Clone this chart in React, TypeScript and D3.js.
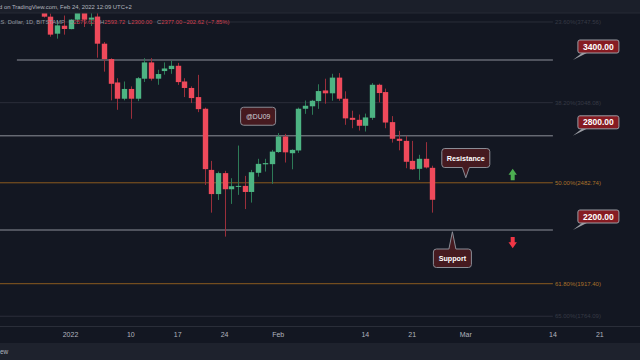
import React from "react";
import * as d3 from "d3";

const W = 640;
const H = 360;

// ETH/USD daily candles, first one is 2021-12-28
const firstDay = "2021-12-28";
const opens = [
  3990, 3799, 3637, 3712,
  3680, 3770, 3835, 3770, 3800, 3545, 3408, 3210, 3079, 3157, 3079, 3241, 3379, 3241, 3305, 3322,
  3350, 3218, 3165, 3092, 3001, 2566, 2412, 2545, 2442, 2460, 2463, 2425, 2547, 2603, 2604,
  2686, 2795, 2678, 2697, 3001, 3020, 3060, 3145, 3122, 3250, 3079, 2932, 2917, 2873, 2932, 3191,
  3132, 2900, 2779, 2764, 2626, 2573, 2640, 2579.62,
];
const highs = [
  4000, 3830, 3765, 3810,
  3775, 3850, 3850, 3870, 3860, 3560, 3415, 3245, 3218, 3178, 3255, 3416, 3416, 3316, 3379, 3396,
  3375, 3245, 3178, 3273, 3010, 2626, 2555, 2560, 2512, 2731, 2527, 2566, 2640, 2640, 2701,
  2820, 2814, 2705, 3010, 3065, 3070, 3195, 3241, 3282, 3288, 3138, 2986, 2957, 2964, 3205, 3200,
  3160, 2945, 2836, 2800, 2764, 2667, 2755, 2593.72,
];
const lows = [
  3790, 3609, 3591, 3628,
  3678, 3730, 3700, 3710, 3420, 3300, 3066, 2993, 3066, 2925, 3060, 3214, 3225, 3191, 3275, 3282,
  3190, 3092, 3045, 2975, 2469, 2300, 2376, 2163, 2352, 2407, 2321, 2360, 2522, 2555, 2476,
  2680, 2615, 2570, 2680, 2962, 2955, 3000, 3040, 3063, 3063, 2880, 2855, 2838, 2831, 2917, 3050,
  2855, 2752, 2698, 2577, 2566, 2501, 2575, 2300,
];
const closes = [
  3799, 3628, 3715, 3681,
  3770, 3835, 3770, 3790, 3545, 3408, 3199, 3079, 3157, 3079, 3245, 3379, 3241, 3280, 3327, 3350,
  3213, 3165, 3084, 2998, 2571, 2412, 2545, 2442, 2461, 2463, 2425, 2551, 2606, 2611, 2689,
  2795, 2684, 2701, 3001, 3024, 3063, 3140, 3122, 3250, 3079, 2928, 2917, 2873, 2935, 3191, 3124,
  2897, 2779, 2764, 2620, 2570, 2640, 2582, 2377,
];

const levels = [3400, 2800, 2200];
const levelStarts = ["2021-12-24", "2021-12-20", "2021-12-20"];
const fibPrices = [3747.56, 3048.08, 2482.74, 1917.4, 1764.09];
const fibLabels = ["23.60%(3747.56)", "38.20%(3048.08)", "50.00%(2482.74)", "61.80%(1917.40)", "65.00%(1764.09)"];
const fibStrong = [false, false, true, true, false];

const tickDates = ["2022-01-01", "2022-01-10", "2022-01-17", "2022-01-24", "2022-02-01", "2022-02-14", "2022-02-21", "2022-03-01", "2022-03-14", "2022-03-21"];
const tickLabels = ["2022", "10", "17", "24", "Feb", "14", "21", "Mar", "14", "21"];

const ohlcKeys = ["O", "H", "L", "C"];
const ohlcVals = ["2579.62", "2593.72", "2300.00", "2377.00"];
const changeText = "−202.62 (−7.85%)";

const lineEnd = "2022-03-14";

const UP = "#4db483";
const DOWN = "#ef4a5b";
const UP_WICK = "#2d7a57";
const DOWN_WICK = "#9b2f3b";
const BG = "#131722";
const TXT = "#b2b5be";
const FONT = "'Liberation Sans', Arial, sans-serif";

const d = (s: string) => new Date(s + "T00:00:00Z");

export default function App() {
  const x = d3.scaleUtc().domain([d("2022-01-01"), d("2022-03-21")]).range([70.5, 599.8]);
  const y = d3.scaleLog().domain([2200, 3400]).range([230, 60]);
  const days = d3.utcDay.range(d(firstDay), d3.utcDay.offset(d(firstDay), opens.length));
  const xEnd = x(d(lineEnd));

  const callout = (cx: number, top: number, w: number, h: number, tipX: number, tipY: number) => {
    const l = cx - w / 2, r = cx + w / 2, b = top + h, rr = 3;
    const down = tipY > b;
    const up = tipY < top;
    const p = d3.path();
    p.moveTo(l + rr, top);
    if (up) { p.lineTo(tipX - 3.5, top); p.lineTo(tipX, tipY); p.lineTo(tipX + 3.5, top); }
    p.lineTo(r - rr, top);
    p.arcTo(r, top, r, top + rr, rr);
    p.lineTo(r, b - rr);
    p.arcTo(r, b, r - rr, b, rr);
    if (down) { p.lineTo(tipX + 3.5, b); p.lineTo(tipX, tipY); p.lineTo(tipX - 3.5, b); }
    p.lineTo(l + rr, b);
    p.arcTo(l, b, l, b - rr, rr);
    p.lineTo(l, top + rr);
    p.arcTo(l, top, l + rr, top, rr);
    p.closePath();
    return p.toString();
  };

  const arrow = (cx: number, cy: number, up: boolean) => {
    const s = up ? -1 : 1;
    const pts = [
      [cx - 4.2, cy - s * 0.3], [cx, cy + s * 5.7], [cx + 4.2, cy - s * 0.3],
      [cx + 2, cy - s * 0.3], [cx + 2, cy - s * 5.7], [cx - 2, cy - s * 5.7], [cx - 2, cy - s * 0.3],
    ];
    return "M" + pts.map((q) => q.join(",")).join("L") + "Z";
  };

  const resTip = [x(d("2022-03-01")), y(2515)];
  const supTip = [x(d("2022-02-27")), y(2190)];
  const tagX = x(d("2022-01-29"));
  const tagY = y(2944);
  const ohlcX = [69, 100, 128, 157];

  return (
    <div style={{ position: "fixed", left: 0, top: 0 }}>
      <svg width={W} height={H} style={{ display: "block", fontFamily: FONT }}>
        <rect width={W} height={H} fill={BG} />
        <defs>
          <clipPath id="plot">
            <rect x={0} y={13} width={W} height={313} />
          </clipPath>
        </defs>

        <g clipPath="url(#plot)">
          {fibPrices.map((p, i) => (
            <g key={"f" + i}>
              <line x1={0} x2={xEnd} y1={y(p)} y2={y(p)} stroke={fibStrong[i] ? "#8a5a1f" : "#2a2e39"} strokeWidth={1} />
              <text x={xEnd + 2} y={y(p) + 2} fontSize={6} fill={fibStrong[i] ? "#a8712a" : "#363a45"}>
                {fibLabels[i]}
              </text>
            </g>
          ))}
          {levels.map((p, i) => (
            <line key={"l" + i} x1={x(d(levelStarts[i]))} x2={xEnd} y1={y(p)} y2={y(p)} stroke="#8d9099" strokeWidth={1} />
          ))}

          {days.map((day, i) => {
            const o = opens[i], c = closes[i];
            const up = c >= o;
            const cx = Math.round(x(day)) + 0.5;
            const top = y(Math.max(o, c));
            const bot = y(Math.min(o, c));
            return (
              <g key={"c" + i}>
                <line x1={cx} x2={cx} y1={y(highs[i])} y2={y(lows[i])} stroke={up ? UP_WICK : DOWN_WICK} strokeWidth={1} />
                <rect x={cx - 2.7} y={top} width={5.4} height={Math.max(1, bot - top)} fill={up ? UP : DOWN} />
              </g>
            );
          })}
        </g>

        {/* price callouts */}
        {levels.map((p, i) => {
          const ly = y(p);
          const bx = xEnd + 25;
          return (
            <g key={"pl" + i}>
              <path d={`M${xEnd + 20},${ly}L${bx + 4},${ly - 7}L${bx + 9},${ly - 7}Z`} fill="#9a9ca3" />
              <rect x={bx} y={ly - 20} width={41} height={13} rx={2} fill="#861b22" stroke="#9a9ca3" strokeWidth={1} />
              <text x={bx + 20.5} y={ly - 10.5} textAnchor="middle" fontSize={8.5} fontWeight="bold" fill="#ffffff">
                {p.toFixed(2)}
              </text>
            </g>
          );
        })}

        {/* text callouts */}
        <path d={callout(tagX, tagY - 9, 35, 18, tagX, tagY)} fill="#461a20" stroke="#8a8d96" strokeWidth={1} />
        <text x={tagX} y={tagY + 2.5} textAnchor="middle" fontSize={6.8} fill="#d1d4dc">@DU09</text>

        <path d={callout(resTip[0], 148.5, 48, 19, resTip[0], resTip[1])} fill="#461a20" stroke="#8a8d96" strokeWidth={1} />
        <text x={resTip[0]} y={160.5} textAnchor="middle" fontSize={7.2} fontWeight="bold" fill="#ffffff">Resistance</text>

        <path d={callout(supTip[0], 249, 38, 18.5, supTip[0], supTip[1])} fill="#461a20" stroke="#8a8d96" strokeWidth={1} />
        <text x={supTip[0]} y={260.8} textAnchor="middle" fontSize={7.2} fontWeight="bold" fill="#ffffff">Support</text>

        <path d={arrow(x(d("2022-03-08")), y(2536), true)} fill="#4caf50" />
        <path d={arrow(x(d("2022-03-08")), y(2130), false)} fill="#f23645" />

        {/* time axis */}
        <line x1={0} x2={W} y1={326.5} y2={326.5} stroke="#2a2e39" />
        {tickDates.map((t, i) => (
          <text key={"t" + i} x={x(d(t))} y={336.5} textAnchor="middle" fontSize={7} fill={TXT}>
            {tickLabels[i]}
          </text>
        ))}
        <rect x={0} y={343} width={W} height={17} fill="#1e222d" />
        <text x={0} y={354} fontSize={6.5} fill={TXT}>ew</text>

        {/* header */}
        <rect x={0} y={0} width={W} height={13} fill="#1b1f2a" />
        <line x1={0} x2={W} y1={13} y2={13} stroke="#262a35" />
        <text x={-1} y={9} fontSize={5.9} fill={TXT}>d on TradingView.com, Feb 24, 2022 12:09 UTC+2</text>
        <text x={-1} y={24} fontSize={5.8} fill="#9598a1">.S. Dollar, 1D, BITSTAMP</text>
        {ohlcKeys.map((k, i) => (
          <text key={"o" + i} x={ohlcX[i]} y={24} fontSize={5.8} fill="#9598a1">
            {k}<tspan fill="#d04050">{ohlcVals[i]}</tspan>
          </text>
        ))}
        <text x={183} y={24} fontSize={5.8} fill="#d04050">{changeText}</text>
      </svg>
    </div>
  );
}
